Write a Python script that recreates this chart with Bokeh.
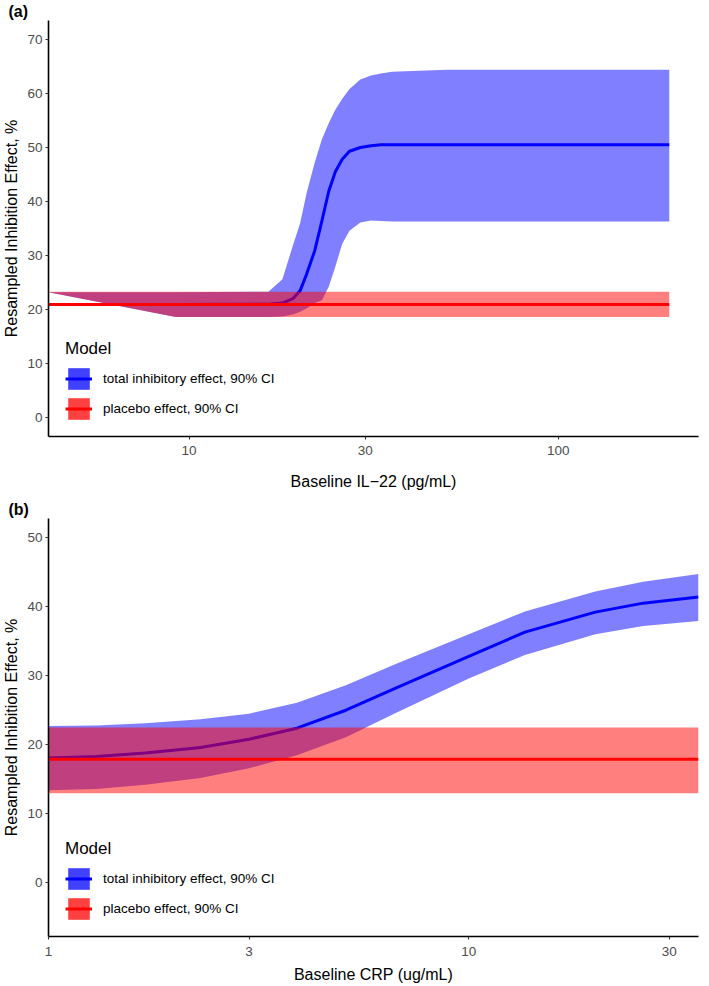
import numpy as np
from bokeh.plotting import figure
from bokeh.models import FixedTicker, Legend, LegendItem, Range1d
from bokeh.layouts import column
from bokeh.embed import file_html
from bokeh.resources import INLINE

# ---------------- Panel (a): IL-22 ----------------
il22_x = [4.16, 9.2, 16.4, 17.9, 19.1, 20.0, 20.8, 21.9, 22.9, 23.9, 24.9,
          26.0, 27.2, 29.1, 31.1, 33.1, 35.5, 50.0, 100.0, 200.0]
a_total_hi = [23.2, 23.2, 23.3, 25.6, 31.8, 36.0, 41.5, 47.2, 51.5, 54.5, 57.0,
              59.0, 60.8, 62.6, 63.3, 63.7, 64.0, 64.4, 64.4, 64.4]
a_total_mid = [20.95, 20.95, 21.0, 21.2, 22.0, 23.5, 26.5, 30.9, 36.4, 41.9, 45.5,
               47.8, 49.3, 50.0, 50.3, 50.5, 50.5, 50.5, 50.5, 50.5]
a_total_lo = [23.2, 18.6, 18.6, 18.7, 19.1, 19.6, 20.2, 21.2, 21.7, 24.2, 27.9,
              32.2, 34.6, 36.1, 36.5, 36.4, 36.3, 36.3, 36.3, 36.3]
a_pbo_x = [4.16, 9.2, 200.0]
a_pbo_hi = [23.3, 23.3, 23.3]
a_pbo_mid = [20.95, 20.95, 20.95]
a_pbo_lo = [23.2, 18.6, 18.6]
a_xticks = [10, 30, 100]
a_yticks = [0, 10, 20, 30, 40, 50, 60, 70]

# ---------------- Panel (b): CRP ----------------
crp_x = [1.0, 1.3, 1.7, 2.3, 3.0, 3.9, 5.1, 6.7, 10.0, 13.6, 20.0, 26.0, 35.2]
b_total_hi = [22.7, 22.8, 23.1, 23.7, 24.5, 26.1, 28.6, 31.7, 36.0, 39.3, 42.2, 43.6, 44.7]
b_total_mid = [18.1, 18.3, 18.8, 19.6, 20.8, 22.4, 25.0, 28.2, 32.8, 36.3, 39.2, 40.5, 41.4]
b_total_lo = [13.4, 13.6, 14.2, 15.2, 16.6, 18.5, 21.1, 24.6, 29.6, 33.0, 36.0, 37.2, 37.9]
b_pbo_x = [1.0, 35.2]
b_pbo_hi = [22.5, 22.5]
b_pbo_mid = [17.9, 17.9]
b_pbo_lo = [13.0, 13.0]
b_xticks = [1, 3, 10, 30]
b_yticks = [0, 10, 20, 30, 40, 50]

legend_labels = ["total inhibitory effect, 90% CI", "placebo effect, 90% CI"]

BLUE = "#0000FF"
RED = "#FF0000"
FONT = "Liberation Sans"
W = 700
NAN = np.array([np.nan])


def style(p, xticks, yticks, xlabel, panel, lab_stand, title_stand):
    p.xgrid.visible = False
    p.ygrid.visible = False
    p.outline_line_color = None
    p.background_fill_color = "white"
    p.xaxis.ticker = FixedTicker(ticks=xticks)
    p.xaxis.major_label_overrides = {t: str(t) for t in xticks}
    p.yaxis.ticker = FixedTicker(ticks=yticks)
    p.yaxis.major_label_overrides = {t: str(t) for t in yticks}
    for ax in (p.xaxis, p.yaxis):
        ax.axis_line_color = "black"
        ax.axis_line_width = 1.6
        ax.major_tick_line_color = "#333333"
        ax.major_tick_line_width = 1.1
        ax.major_tick_in = 0
        ax.major_tick_out = 3
        ax.minor_tick_line_color = None
        ax.major_label_text_font = FONT
        ax.major_label_text_font_size = "13.5px"
        ax.major_label_text_color = "#4D4D4D"
        ax.axis_label_text_font = FONT
        ax.axis_label_text_font_size = "16px"
        ax.axis_label_text_font_style = "normal"
        ax.axis_label_text_color = "black"
    p.xaxis.major_label_standoff = lab_stand
    p.xaxis.axis_label_standoff = title_stand
    p.yaxis.major_label_standoff = 3
    p.yaxis.axis_label_standoff = 4
    p.xaxis.axis_label = xlabel
    p.yaxis.axis_label = "Resampled Inhibition Effect, %"
    p.title.text = panel
    p.title.text_font = FONT
    p.title.text_font_size = "16px"
    p.title.text_font_style = "bold"
    p.title.text_color = "black"
    p.title.align = "left"
    p.title.offset = -40
    p.title.standoff = 1


def draw(p, x, hi, mid, lo, px, phi, pmid, plo):
    p.varea(x=x, y1=lo, y2=hi, fill_color=BLUE, fill_alpha=0.5)
    p.line(x=x, y=mid, line_color=BLUE, line_width=3)
    p.varea(x=px, y1=plo, y2=phi, fill_color=RED, fill_alpha=0.5)
    p.line(x=px, y=pmid, line_color=RED, line_width=3)
    # legend keys (no visible data in the plot)
    kb = p.varea(x=NAN, y1=NAN, y2=NAN, fill_color=BLUE, fill_alpha=0.75)
    kbl = p.line(x=NAN, y=NAN, line_color=BLUE, line_width=3)
    kr = p.varea(x=NAN, y1=NAN, y2=NAN, fill_color=RED, fill_alpha=0.75)
    krl = p.line(x=NAN, y=NAN, line_color=RED, line_width=3)
    leg = Legend(items=[
        LegendItem(label=legend_labels[0], renderers=[kb, kbl]),
        LegendItem(label=legend_labels[1], renderers=[kr, krl]),
    ], title="Model", location=(17, 14))
    leg.background_fill_alpha = 0
    leg.border_line_color = None
    leg.padding = 0
    leg.margin = 0
    leg.spacing = 3
    leg.glyph_width = 27
    leg.glyph_height = 27
    leg.label_height = 27
    leg.label_standoff = 11
    leg.label_text_font = FONT
    leg.label_text_font_size = "13.5px"
    leg.label_text_color = "black"
    leg.title_text_font = FONT
    leg.title_text_font_size = "17px"
    leg.title_text_font_style = "normal"
    leg.title_text_color = "black"
    leg.title_standoff = 6
    p.add_layout(leg)


# ---- figure a ----
pa = figure(width=W, height=492, x_axis_type="log",
            x_range=Range1d(4.16, 240), y_range=Range1d(-3.5, 73.5),
            output_backend="svg", toolbar_location=None,
            min_border_left=41, min_border_right=2,
            min_border_top=18, min_border_bottom=55)
style(pa, a_xticks, a_yticks, "Baseline IL\u221222 (pg/mL)", "(a)", 6, 15)
draw(pa, il22_x, a_total_hi, a_total_mid, a_total_lo,
     a_pbo_x, a_pbo_hi, a_pbo_mid, a_pbo_lo)

# ---- figure b ----
pb = figure(width=W, height=493, x_axis_type="log",
            x_range=Range1d(1.0, 35.2), y_range=Range1d(-7.75, 52.75),
            output_backend="svg", toolbar_location=None,
            min_border_left=41, min_border_right=2,
            min_border_top=26, min_border_bottom=49)
style(pb, b_xticks, b_yticks, "Baseline CRP (ug/mL)", "(b)", 7, 7)
draw(pb, crp_x, b_total_hi, b_total_mid, b_total_lo,
     b_pbo_x, b_pbo_hi, b_pbo_mid, b_pbo_lo)

layout = column(pa, pb)
open("out.html", "w").write(file_html(layout, INLINE))
